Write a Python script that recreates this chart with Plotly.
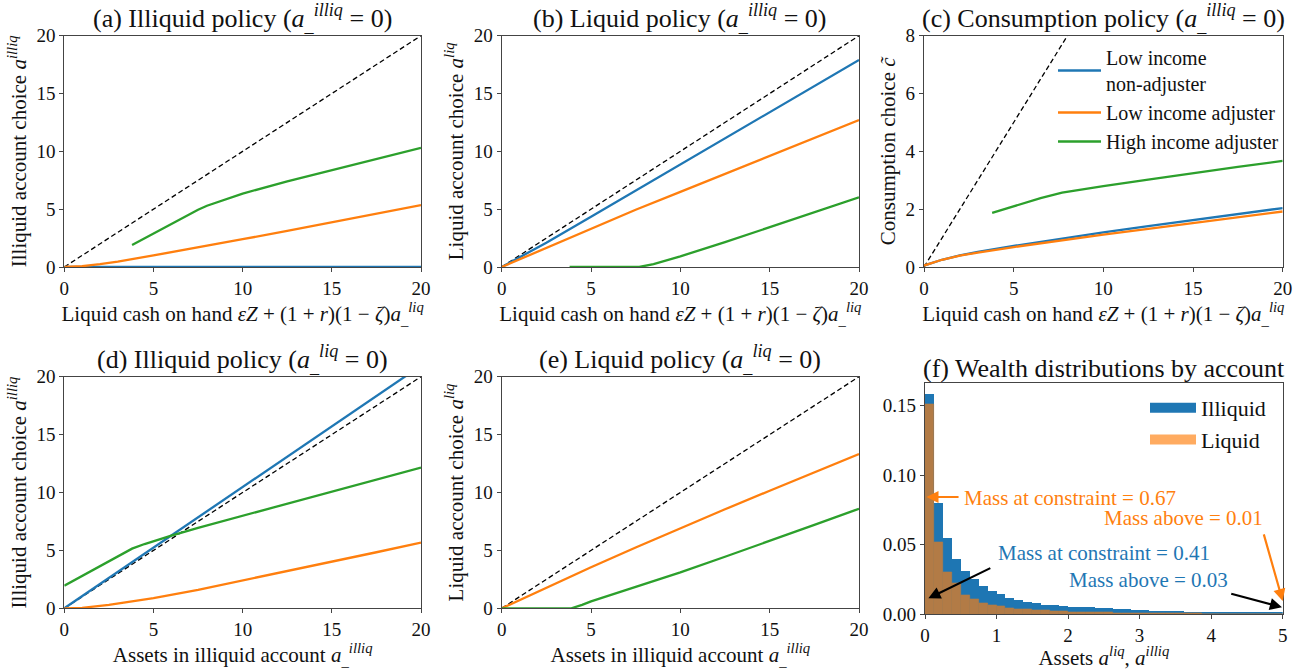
import plotly.graph_objects as go

# ---------------- data ----------------
DIAG = [0, 20]

# (a) illiquid policy vs liquid cash on hand
a_blue_x = [0, 20]
a_blue_y = [0, 0]
a_orange_x = [0, 1, 2, 3, 5, 7.5, 10, 12.5, 15, 17.5, 20]
a_orange_y = [0, 0.07, 0.25, 0.47, 1.0, 1.68, 2.4, 3.12, 3.86, 4.6, 5.35]
a_green_x = [3.8, 5, 6, 7.5, 8, 9, 10, 12.5, 15, 17.5, 20]
a_green_y = [1.9, 2.9, 3.75, 4.95, 5.3, 5.85, 6.35, 7.4, 8.35, 9.35, 10.3]

# (b) liquid policy vs liquid cash on hand
b_blue_x = [0, 1, 2.5, 5, 7.5, 10, 12.5, 15, 17.5, 20]
b_blue_y = [0, 0.82, 2.1, 4.35, 6.6, 8.9, 11.15, 13.4, 15.65, 17.9]
b_orange_x = [0, 2.5, 5, 7.5, 10, 12.5, 15, 17.5, 20]
b_orange_y = [0, 1.65, 3.3, 4.95, 6.5, 8.05, 9.6, 11.15, 12.7]
b_green_x = [3.8, 7.7, 8.5, 10, 12.5, 15, 17.5, 20]
b_green_y = [0, 0, 0.25, 0.92, 2.15, 3.43, 4.72, 6.02]

# (c) consumption policy
c_blue_x = [0, 0.5, 1, 2, 3, 5, 7.5, 10, 12.5, 15, 17.5, 20]
c_blue_y = [0.05, 0.15, 0.25, 0.4, 0.52, 0.73, 0.97, 1.2, 1.41, 1.62, 1.83, 2.04]
c_orange_x = [0, 0.5, 1, 2, 3, 5, 7.5, 10, 12.5, 15, 17.5, 20]
c_orange_y = [0.05, 0.15, 0.25, 0.39, 0.5, 0.69, 0.91, 1.12, 1.32, 1.52, 1.72, 1.92]
c_green_x = [3.8, 5, 6.5, 7.7, 10, 12.5, 15, 17.5, 20]
c_green_y = [1.87, 2.1, 2.38, 2.57, 2.8, 3.02, 3.25, 3.46, 3.67]

# (d) illiquid policy vs illiquid assets
d_blue_x = [0, 5, 10, 15, 20]
d_blue_y = [0, 5.22, 10.47, 15.7, 20.95]
d_orange_x = [0, 1, 2.5, 3.75, 5, 7.5, 10, 12.5, 15, 17.5, 20]
d_orange_y = [0, 0.04, 0.3, 0.57, 0.88, 1.6, 2.4, 3.2, 4.02, 4.84, 5.67]
d_green_x = [0, 1, 2, 3, 3.8, 4.5, 5, 6, 7.5, 10, 12.5, 15, 17.5, 20]
d_green_y = [1.95, 2.8, 3.65, 4.5, 5.15, 5.55, 5.8, 6.27, 6.95, 8.0, 9.05, 10.1, 11.12, 12.15]

# (e) liquid policy vs illiquid assets
e_orange_x = [0, 2.5, 5, 7.5, 10, 12.5, 15, 17.5, 20]
e_orange_y = [0, 1.78, 3.55, 5.25, 6.92, 8.55, 10.15, 11.75, 13.33]
e_green_x = [0, 3.9, 4.5, 5, 7.5, 10, 12.5, 15, 17.5, 20]
e_green_y = [0, 0, 0.3, 0.6, 1.85, 3.1, 4.45, 5.8, 7.2, 8.6]

# (f) wealth distributions (histogram bin masses)
hist_bin_width = 0.125
hist_illiquid = [0.158, 0.0795, 0.0545, 0.0394, 0.031, 0.025, 0.0203, 0.0165,
                 0.0143, 0.0117, 0.0103, 0.0088, 0.0077, 0.0068, 0.0062, 0.0057,
                 0.0053, 0.005, 0.0047, 0.0044, 0.004, 0.0037, 0.0034, 0.0031,
                 0.0028, 0.0025, 0.0023, 0.0021, 0.0019, 0.0018, 0.0017, 0.0016,
                 0.0015, 0.0013, 0.0012, 0.0011, 0.001, 0.0009, 0.0009, 0.0008]
hist_liquid = [0.151, 0.0518, 0.0299, 0.022, 0.0139, 0.0107, 0.0082, 0.0066,
               0.0054, 0.0045, 0.0038, 0.0033, 0.0029, 0.0026, 0.0023, 0.002,
               0.0018, 0.0016, 0.0014, 0.0012, 0.0011, 0.001, 0.0009, 0.0008,
               0.0007, 0.0006, 0.0006, 0.0005, 0.0005, 0.0004, 0.0004, 0.0003,
               0.0003, 0.0003, 0.0002, 0.0002, 0.0002, 0.0002, 0.0001, 0.0001]
hist_centers = [(i + 0.5) * hist_bin_width for i in range(len(hist_illiquid))]

legend_names = ["Low income<br>non-adjuster", "Low income adjuster", "High income adjuster"]
hist_names = ["Illiquid", "Liquid"]

# ---------------- style ----------------
BLUE = "#1f77b4"
ORANGE = "#ff7f0e"
GREEN = "#2ca02c"
LIQ_ALPHA = 0.66
FONT = "Liberation Serif"
LW = 2.3

fig = go.Figure()


def line(x, y, color, ax, name=None, show=False, dash=None, width=LW):
    fig.add_trace(go.Scatter(
        x=x, y=y, mode="lines", name=name, showlegend=show,
        line=dict(color=color, width=width, dash=dash),
        xaxis="x" + ax, yaxis="y" + ax, hoverinfo="skip",
        legend="legend" if show else None,
    ))


def diag(ax):
    line(DIAG, DIAG, "black", ax, dash="5px,3px", width=1.3)


# (a)
diag("")
line(a_blue_x, a_blue_y, BLUE, "")
line(a_orange_x, a_orange_y, ORANGE, "")
line(a_green_x, a_green_y, GREEN, "")
# (b)
diag("2")
line(b_blue_x, b_blue_y, BLUE, "2")
line(b_orange_x, b_orange_y, ORANGE, "2")
line(b_green_x, b_green_y, GREEN, "2")
# (c)
diag("3")
line(c_blue_x, c_blue_y, BLUE, "3", legend_names[0], True)
line(c_orange_x, c_orange_y, ORANGE, "3", legend_names[1], True)
line(c_green_x, c_green_y, GREEN, "3", legend_names[2], True)
# (d)
diag("4")
line(d_blue_x, d_blue_y, BLUE, "4")
line(d_orange_x, d_orange_y, ORANGE, "4")
line(d_green_x, d_green_y, GREEN, "4")
# (e)
diag("5")
line(e_orange_x, e_orange_y, ORANGE, "5")
line(e_green_x, e_green_y, GREEN, "5")
# (f)
fig.add_trace(go.Bar(x=hist_centers, y=hist_illiquid, width=hist_bin_width,
                     marker=dict(color=BLUE, line=dict(width=0)),
                     name=hist_names[0], showlegend=False, xaxis="x6", yaxis="y6",
                     hoverinfo="skip"))
fig.add_trace(go.Bar(x=hist_centers, y=hist_liquid, width=hist_bin_width,
                     marker=dict(color=ORANGE, line=dict(width=0.6, color=ORANGE)),
                     opacity=LIQ_ALPHA, name=hist_names[1], showlegend=False,
                     xaxis="x6", yaxis="y6", hoverinfo="skip"))
# legend entries drawn as wide patches (matplotlib style)
for nm, col, op in [(hist_names[0], BLUE, 1.0), (hist_names[1], ORANGE, LIQ_ALPHA)]:
    fig.add_trace(go.Scatter(x=[None], y=[None], mode="lines", name=nm, legend="legend2",
                             line=dict(color=col, width=14), opacity=op,
                             xaxis="x6", yaxis="y6", hoverinfo="skip"))

# ---------------- layout ----------------
W, H = 1305, 670
colx = [(64.3 / W, 421 / W), (501.7 / W, 859 / W), (924 / W, 1282.7 / W)]
row1 = ((670 - 267) / H, (670 - 35.7) / H)
row2 = ((670 - 608.3) / H, (670 - 376.7) / H)
rowf = ((670 - 614.3) / H, (670 - 383.3) / H)
colf = (925 / W, 1282.7 / W)

TICKF = dict(family=FONT, size=19, color="#111")
TITLEF = dict(family=FONT, size=21, color="#111")

cash_lbl = ("Liquid cash on hand <i>εZ</i> + (1 + <i>r</i>)(1 − <i>ζ</i>)"
            "<i>a</i><sub>_</sub><sup><i>liq</i></sup>")
assets_lbl = "Assets in illiquid account <i>a</i><sub>_</sub><sup><i>illiq</i></sup>"
illiq_lbl = "Illiquid account choice <i>a</i><sup><i>illiq</i></sup>"
liq_lbl = "Liquid account choice <i>a</i><sup><i>liq</i></sup>"
cons_lbl = "Consumption choice <i>c̃</i>"


def xax(domain, anchor, rng, title, dtick):
    return dict(domain=domain, anchor=anchor, range=rng, title=dict(text=title, font=TITLEF, standoff=0),
                showline=True, mirror=True, linecolor="#444", linewidth=1.2,
                ticks="outside", ticklen=4, tickwidth=1.2, tickcolor="#444", tickfont=TICKF,
                dtick=dtick, tick0=0, showgrid=False, zeroline=False, automargin=False, fixedrange=True)


def yax(domain, anchor, rng, title, dtick, fmt=None):
    d = dict(domain=domain, anchor=anchor, range=rng, title=dict(text=title, font=TITLEF, standoff=4),
             showline=True, mirror=True, linecolor="#444", linewidth=1.2,
             ticks="outside", ticklen=4, tickwidth=1.2, tickcolor="#444", tickfont=TICKF,
             dtick=dtick, tick0=0, showgrid=False, zeroline=False, automargin=False, fixedrange=True)
    if fmt:
        d["tickformat"] = fmt
    return d


fig.update_layout(
    width=W, height=H,
    margin=dict(l=0, r=0, t=0, b=0),
    paper_bgcolor="white", plot_bgcolor="white",
    font=dict(family=FONT, color="#111"),
    barmode="overlay", bargap=0,
    xaxis=xax(colx[0], "y", [0, 20], cash_lbl, 5),
    yaxis=yax(row1, "x", [0, 20], illiq_lbl, 5),
    xaxis2=xax(colx[1], "y2", [0, 20], cash_lbl, 5),
    yaxis2=yax(row1, "x2", [0, 20], liq_lbl, 5),
    xaxis3=xax(colx[2], "y3", [0, 20], cash_lbl, 5),
    yaxis3=yax(row1, "x3", [0, 8], cons_lbl, 2),
    xaxis4=xax(colx[0], "y4", [0, 20], assets_lbl, 5),
    yaxis4=yax(row2, "x4", [0, 20], illiq_lbl, 5),
    xaxis5=xax(colx[1], "y5", [0, 20], assets_lbl, 5),
    yaxis5=yax(row2, "x5", [0, 20], liq_lbl, 5),
    xaxis6=xax(colf, "y6", [0, 5], "Assets <i>a</i><sup><i>liq</i></sup>, <i>a</i><sup><i>illiq</i></sup>", 1),
    yaxis6=yax(rowf, "x6", [0, 0.166], "", 0.05, ".2f"),
    legend=dict(x=1053 / W, y=(670 - 38) / H, xanchor="left", yanchor="top",
                font=dict(family=FONT, size=20, color="#111"), bgcolor="rgba(0,0,0,0)",
                tracegroupgap=0, itemwidth=43),
    legend2=dict(x=1145 / W, y=(670 - 387) / H, xanchor="left", yanchor="top",
                 font=dict(family=FONT, size=22, color="#111"), bgcolor="rgba(0,0,0,0)",
                 itemwidth=46),
    showlegend=True,
)

# subplot titles
titles = [
    ("(a) Illiquid policy (<i>a</i><sub>_</sub><sup><i>illiq</i></sup> = 0)", colx[0], row1[1]),
    ("(b) Liquid policy (<i>a</i><sub>_</sub><sup><i>illiq</i></sup> = 0)", colx[1], row1[1]),
    ("(c) Consumption policy (<i>a</i><sub>_</sub><sup><i>illiq</i></sup> = 0)", colx[2], row1[1]),
    ("(d) Illiquid policy (<i>a</i><sub>_</sub><sup><i>liq</i></sup> = 0)", colx[0], row2[1]),
    ("(e) Liquid policy (<i>a</i><sub>_</sub><sup><i>liq</i></sup> = 0)", colx[1], row2[1]),
    ("(f) Wealth distributions by account", colf, rowf[1]),
]
for txt, dom, ytop in titles:
    fig.add_annotation(text=txt, xref="paper", yref="paper", x=(dom[0] + dom[1]) / 2,
                       y=ytop, yshift=-2, xanchor="center", yanchor="bottom", showarrow=False,
                       font=dict(family=FONT, size=26, color="#111"))

# panel (f) annotations
ANNF = 21
fig.add_annotation(text="Mass at constraint = 0.67", x=2.02, y=0.0836, xref="x6", yref="y6",
                   showarrow=False, font=dict(family=FONT, size=ANNF, color=ORANGE))
fig.add_annotation(text="Mass above = 0.01", x=3.61, y=0.0692, xref="x6", yref="y6",
                   showarrow=False, font=dict(family=FONT, size=ANNF, color=ORANGE))
fig.add_annotation(text="Mass at constraint = 0.41", x=2.50, y=0.0444, xref="x6", yref="y6",
                   showarrow=False, font=dict(family=FONT, size=ANNF, color=BLUE))
fig.add_annotation(text="Mass above = 0.03", x=3.12, y=0.0246, xref="x6", yref="y6",
                   showarrow=False, font=dict(family=FONT, size=ANNF, color=BLUE))

arrows = [
    (0.02, 0.0843, 0.49, 0.0843, ORANGE),
    (5.0, 0.0095, 4.73, 0.0585, ORANGE),
    (0.047, 0.0115, 0.934, 0.0337, "black"),
    (4.99, 0.005, 4.26, 0.0151, "black"),
]
for hx, hy, tx, ty, col in arrows:
    fig.add_annotation(x=hx, y=hy, ax=tx, ay=ty, xref="x6", yref="y6", axref="x6", ayref="y6",
                       text="", showarrow=True, arrowhead=2, arrowsize=1.1, arrowwidth=2.2,
                       arrowcolor=col)

fig.write_html("out.html", config={"displayModeBar": False},
               post_script="document.body.style.margin='0';document.body.style.overflow='hidden';")
